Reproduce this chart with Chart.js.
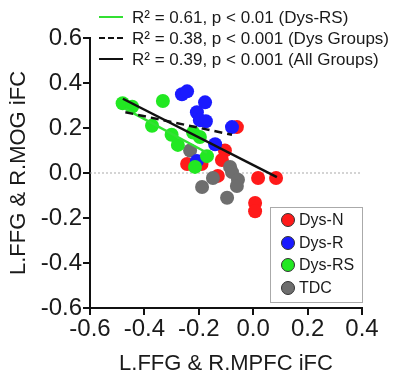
<!DOCTYPE html>
<html><head><meta charset="utf-8">
<script src="https://cdn.jsdelivr.net/npm/chart.js@4.4.0/dist/chart.umd.min.js"></script>
<style>html,body{margin:0;padding:0;background:#fff}#wrap{width:400px;height:379px}</style>
</head><body><div id="wrap"><canvas id="c" width="400" height="379"></canvas></div>
<script>
const xTicks = [-0.6, -0.4, -0.2, 0.0, 0.2, 0.4];
const yTicks = [-0.6, -0.4, -0.2, 0.0, 0.2, 0.4, 0.6];
const groupNames = ['Dys-N', 'Dys-R', 'Dys-RS', 'TDC'];
const dysN_x = [-0.06, -0.104, -0.115, -0.243, -0.19, -0.13, 0.018, 0.084, 0.007, 0.007];
const dysN_y = [0.204, 0.10, 0.058, 0.04, 0.04, -0.013, -0.022, -0.022, -0.133, -0.17];
const dysR_x = [-0.262, -0.243, -0.177, -0.207, -0.196, -0.174, -0.078, -0.14, -0.207];
const dysR_y = [0.35, 0.363, 0.314, 0.27, 0.235, 0.23, 0.204, 0.128, 0.053];
const dysRS_x = [-0.48, -0.445, -0.332, -0.372, -0.30, -0.277, -0.221, -0.196, -0.17, -0.214];
const dysRS_y = [0.31, 0.295, 0.32, 0.21, 0.17, 0.125, 0.18, 0.16, 0.075, 0.027];
const tdc_x = [-0.232, -0.085, -0.078, -0.056, -0.06, -0.148, -0.188, -0.096];
const tdc_y = [0.10, 0.027, 0.004, -0.03, -0.058, -0.022, -0.062, -0.11];
const fitRS_x = [-0.47, -0.17];
const fitRS_y = [0.285, 0.09];
const fitDys_x = [-0.47, -0.078];
const fitDys_y = [0.27, 0.17];
const fitAll_x = [-0.479, 0.087];
const fitAll_y = [0.33, -0.018];
const zeroLine_x = [-0.6, 0.4];
const zeroLine_y = [0, 0];
const fitLabels = ['R\u00B2 = 0.61, p < 0.01 (Dys-RS)', 'R\u00B2 = 0.38, p < 0.001 (Dys Groups)', 'R\u00B2 = 0.39, p < 0.001 (All Groups)'];

const colors = { 'Dys-N': '#ff1a1a', 'Dys-R': '#1a1aff', 'Dys-RS': '#22e822', 'TDC': '#6e6e6e' };
const pts = (xs, ys) => xs.map((x, i) => ({ x: x, y: ys[i] }));
const FONT = 'Liberation Sans, Arial, sans-serif';
const TXT = '#1a1a1a';

function scatterDs(name, xs, ys, order) {
  return { type: 'scatter', label: name, data: pts(xs, ys), backgroundColor: colors[name],
    borderWidth: 0, pointRadius: 7, pointHoverRadius: 7, order: order };
}
function lineDs(label, xs, ys, color, width, dash, order) {
  return { type: 'line', label: label, data: pts(xs, ys), borderColor: color, borderWidth: width,
    borderDash: dash, pointRadius: 0, fill: false, showLine: true, order: order };
}

const legendPlugin = {
  id: 'legends',
  afterDraw(chart) {
    const ctx = chart.ctx;
    ctx.save();
    const ly = [17, 38, 59];
    const styles = [['#33e033', []], ['#111', [6, 3]], ['#111', []]];
    for (let i = 0; i < 3; i++) {
      ctx.beginPath();
      ctx.strokeStyle = styles[i][0];
      ctx.lineWidth = 2;
      ctx.setLineDash(styles[i][1]);
      ctx.moveTo(99, ly[i]); ctx.lineTo(123, ly[i]);
      ctx.stroke();
      ctx.setLineDash([]);
      ctx.fillStyle = TXT;
      ctx.font = '17px ' + FONT;
      ctx.textBaseline = 'middle';
      ctx.textAlign = 'left';
      ctx.fillText(fitLabels[i], 132, ly[i] + 1);
    }
    ctx.fillStyle = '#fff';
    ctx.fillRect(270, 207, 92, 95);
    ctx.strokeStyle = '#aaa';
    ctx.lineWidth = 1;
    ctx.strokeRect(270.5, 207.5, 92, 95);
    const gy = [220, 243, 265, 288];
    for (let i = 0; i < 4; i++) {
      ctx.beginPath();
      ctx.arc(288, gy[i], 6.5, 0, Math.PI * 2);
      ctx.fillStyle = colors[groupNames[i]];
      ctx.fill();
      ctx.strokeStyle = '#333';
      ctx.lineWidth = 1;
      ctx.stroke();
      ctx.fillStyle = TXT;
      ctx.font = '16px ' + FONT;
      ctx.textBaseline = 'middle';
      ctx.fillText(groupNames[i], 299, gy[i] + 1);
    }
    ctx.restore();
  }
};

new Chart(document.getElementById('c'), {
  data: {
    datasets: [
      lineDs('fitAll', fitAll_x, fitAll_y, '#111', 2.5, [], 0),
      lineDs('fitDys', fitDys_x, fitDys_y, '#111', 2.5, [8, 5], 0),
      lineDs('fitRS', fitRS_x, fitRS_y, '#33e033', 2.5, [], 0),
      scatterDs('Dys-RS', dysRS_x, dysRS_y, 1),
      scatterDs('Dys-R', dysR_x, dysR_y, 2),
      scatterDs('TDC', tdc_x, tdc_y, 3),
      scatterDs('Dys-N', dysN_x, dysN_y, 4),
      lineDs('zero', zeroLine_x, zeroLine_y, '#aaa', 1, [2, 2], 5)
    ]
  },
  options: {
    responsive: false, animation: false, devicePixelRatio: 1,
    layout: { padding: { left: 0, right: 38, top: 38, bottom: 0 } },
    plugins: { legend: { display: false }, tooltip: { enabled: false } },
    scales: {
      x: {
        type: 'linear', min: -0.6, max: 0.4,
        afterFit(s) { s.height = 71; },
        afterBuildTicks(s) { s.ticks = xTicks.map(v => ({ value: v })); },
        ticks: { color: TXT, font: { family: FONT, size: 24 }, padding: 0,
          callback: v => v.toFixed(1) },
        grid: { drawOnChartArea: false, color: '#111', lineWidth: 2, tickLength: 7 },
        border: { display: true, color: '#111', width: 2 },
        title: { display: true, text: 'L.FFG & R.MPFC iFC', color: TXT,
          font: { family: FONT, size: 22 }, padding: { top: 0, bottom: 2 } }
      },
      y: {
        type: 'linear', min: -0.6, max: 0.6,
        afterFit(s) { s.width = 90; },
        afterBuildTicks(s) { s.ticks = yTicks.map(v => ({ value: v })); },
        ticks: { color: TXT, font: { family: FONT, size: 24 }, padding: 1,
          callback: v => v.toFixed(1) },
        grid: { drawOnChartArea: false, color: '#111', lineWidth: 2, tickLength: 7 },
        border: { display: true, color: '#111', width: 2 },
        title: { display: true, text: 'L.FFG & R.MOG iFC', color: TXT,
          font: { family: FONT, size: 22 }, padding: { top: 6, bottom: 0 } }
      }
    }
  },
  plugins: [legendPlugin]
});
</script>
</body></html>
